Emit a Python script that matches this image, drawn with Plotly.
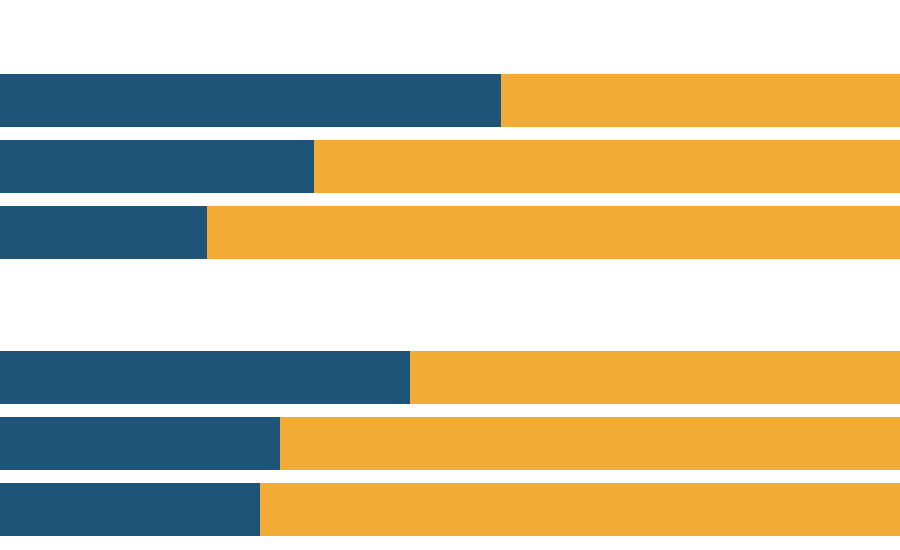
import plotly.graph_objects as go
from plotly.subplots import make_subplots

# ----------------------------------------------------------------------------
# DATA (share in %)
top_labels = ['Top 1', 'Top 2', 'Top 3']
top_blue = [55.7, 34.9, 23.0]
top_orange = [44.3, 65.1, 77.0]

bottom_labels = ['Bottom 1', 'Bottom 2', 'Bottom 3']
bottom_blue = [45.6, 31.1, 28.9]
bottom_orange = [54.4, 68.9, 71.1]

blue = '#1F5479'
orange = '#F2AB35'

# ----------------------------------------------------------------------------
# GRAPH
fig = make_subplots(rows=2, cols=1, shared_xaxes=True, vertical_spacing=0.1)

groups = [(top_labels, top_blue, top_orange, 1), (bottom_labels, bottom_blue, bottom_orange, 2)]
for labels, vals_b, vals_o, row in groups:
    fig.add_trace(go.Bar(y=labels, x=vals_b, orientation='h', marker=dict(color=blue, line=dict(width=0)),
                         width=0.8, showlegend=False), row=row, col=1)
    fig.add_trace(go.Bar(y=labels, x=vals_o, orientation='h', marker=dict(color=orange, line=dict(width=0)),
                         width=0.8, showlegend=False), row=row, col=1)

fig.update_layout(barmode='stack', width=900, height=550, margin=dict(l=0, r=0, t=0, b=0),
                  plot_bgcolor='white', paper_bgcolor='white')

# subplot positions (the gap between the two groups)
fig.update_layout(yaxis=dict(domain=[0.5169, 0.8775]), yaxis2=dict(domain=[0.0131, 0.3738]))
fig.update_yaxes(autorange='reversed', showticklabels=False, showgrid=False, zeroline=False, showline=False)
fig.update_xaxes(range=[0, 100], showticklabels=False, showgrid=False, zeroline=False, showline=False)

# remove the default page margin so the figure fills the window, no modebar
fig.write_html("out.html", config={'displayModeBar': False},
               post_script="document.body.style.margin='0'; document.body.style.overflow='hidden';")
